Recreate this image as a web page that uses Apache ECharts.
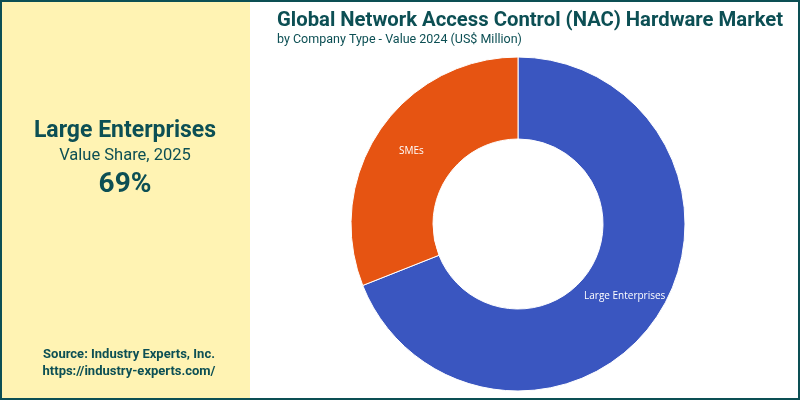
<!DOCTYPE html>
<html>
<head>
<meta charset="utf-8">
<script src="https://cdn.jsdelivr.net/npm/echarts@6/dist/echarts.min.js"></script>
<style>
  html, body { margin: 0; padding: 0; }
  #chart { width: 800px; height: 400px; }
</style>
</head>
<body>
<div id="chart"></div>
<script>
var categories = ['Large Enterprises', 'SMEs'];
var shareValues = [69, 31];
var sliceColors = ['#3A56C0', '#E65412'];

var myChart = echarts.init(document.getElementById('chart'));

var pieData = [];
for (var i = 0; i < categories.length; i++) {
    pieData.push({ name: categories[i], value: shareValues[i], itemStyle: { color: sliceColors[i] } });
}

var option = {
    backgroundColor: '#ffffff',
    graphic: [
        // border and left panel
        { type: 'rect', shape: { x: 1, y: 1, width: 798, height: 398 }, style: { fill: 'none', stroke: '#0C4F54', lineWidth: 2 }, z: 10 },
        { type: 'rect', shape: { x: 2, y: 2, width: 248, height: 396 }, style: { fill: '#FFF3B3' } },
        { type: 'text', x: 125, y: 120, style: { text: 'Large Enterprises', align: 'center', fill: '#0C4F54', font: 'bold 23px Roboto' } },
        { type: 'text', x: 125, y: 147, style: { text: 'Value Share, 2025', align: 'center', fill: '#0C4F54', font: '16.5px Roboto' } },
        { type: 'text', x: 125, y: 171, style: { text: '69%', align: 'center', fill: '#0C4F54', font: 'bold 28px Roboto' } },
        { type: 'text', x: 129, y: 348, style: { text: 'Source: Industry Experts, Inc.', align: 'center', fill: '#0C4F54', font: 'bold 13px Roboto' } },
        { type: 'text', x: 129, y: 365, style: { text: 'https://industry-experts.com/', align: 'center', fill: '#0C4F54', font: 'bold 13px Roboto' } }
    ],
    title: {
        text: 'Global Network Access Control (NAC) Hardware Market',
        subtext: 'by Company Type - Value 2024 (US$ Million)',
        left: 277,
        top: 11,
        itemGap: 2,
        padding: 0,
        textStyle: { color: '#0C4F54', fontFamily: 'Roboto', fontWeight: 'bold', fontSize: 20.3 },
        subtextStyle: { color: '#0C4F54', fontFamily: 'Roboto', fontSize: 12.5 }
    },
    series: [{
        type: 'pie',
        center: [518, 224],
        radius: [85, 167],
        startAngle: 90,
        clockwise: true,
        data: pieData,
        itemStyle: { borderColor: '#ffffff', borderWidth: 1 },
        label: {
            position: 'inside',
            color: '#ffffff',
            fontSize: 10,
            fontFamily: 'Open Sans'
        },
        labelLine: { show: false }
    }]
};

myChart.setOption(option);
</script>
</body>
</html>
